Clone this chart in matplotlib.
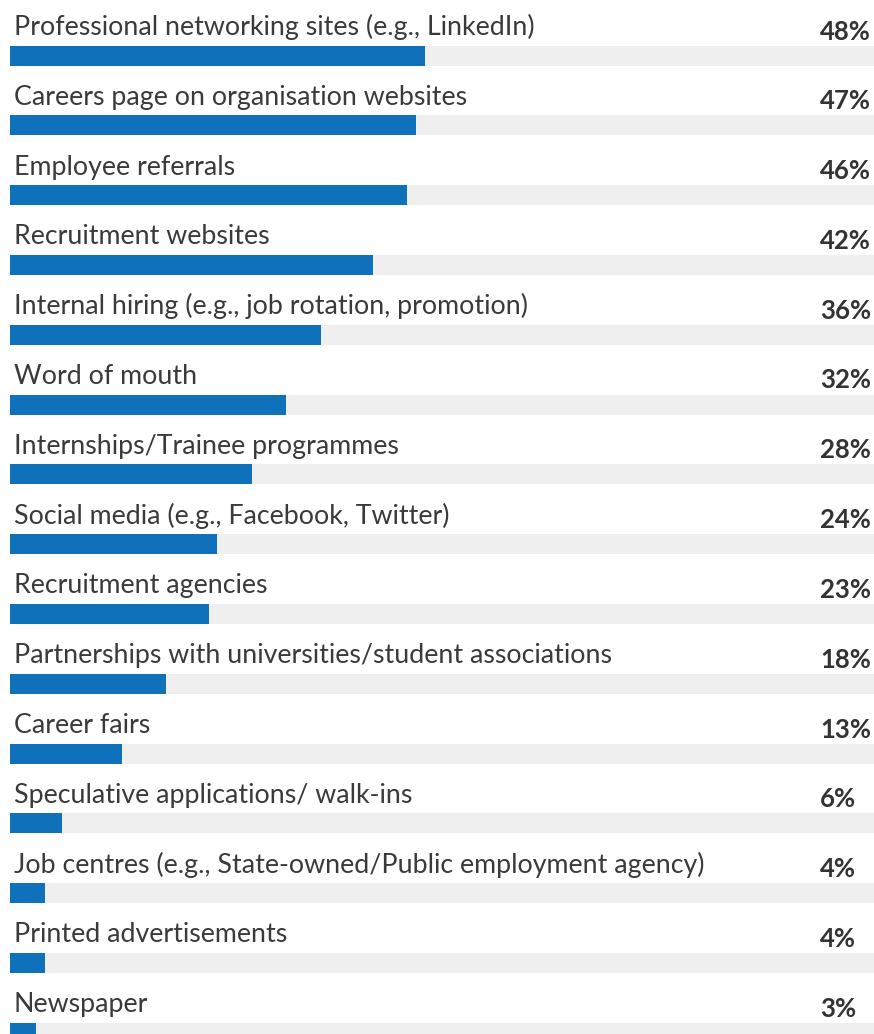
import matplotlib
matplotlib.use("Agg")
import matplotlib.pyplot as plt
import matplotlib.transforms as mtransforms

categories = [
    "Professional networking sites (e.g., LinkedIn)",
    "Careers page on organisation websites",
    "Employee referrals",
    "Recruitment websites",
    "Internal hiring (e.g., job rotation, promotion)",
    "Word of mouth",
    "Internships/Trainee programmes",
    "Social media (e.g., Facebook, Twitter)",
    "Recruitment agencies",
    "Partnerships with universities/student associations",
    "Career fairs",
    "Speculative applications/ walk-ins",
    "Job centres (e.g., State-owned/Public employment agency)",
    "Printed advertisements",
    "Newspaper",
]
values = [48, 47, 46, 42, 36, 32, 28, 24, 23, 18, 13, 6, 4, 4, 3]
value_labels = [f"{v}%" for v in values]

W, H, DPI = 874, 1034, 100
pitch = 69.8          # px between rows
first_center = 55.5   # px from top to centre of first bar
bar_h = 20 / pitch

BLUE = "#0f71b9"
TRACK = "#efefef"
TEXT = "#3a3a3a"

plt.rcParams["font.family"] = ["Lato", "DejaVu Sans"]

fig = plt.figure(figsize=(W / DPI, H / DPI), dpi=DPI)
ax = fig.add_axes([10 / W, 0, (W - 10) / W, 1])
ax.set_xlim(0, 100)
ax.set_ylim((H - first_center) / pitch, -first_center / pitch)
ax.axis("off")

rows = list(range(len(categories)))
ax.barh(rows, [100] * len(rows), height=bar_h, color=TRACK, left=0, zorder=1)
ax.barh(rows, values, height=bar_h, color=BLUE, zorder=2)

trans = mtransforms.blended_transform_factory(ax.transAxes, ax.transData)
label_off = 20.5 / pitch
value_off = 16.0 / pitch
for i, (cat, lab) in enumerate(zip(categories, value_labels)):
    ax.text(4 / (W - 10), i - label_off, cat, transform=trans, ha="left",
            va="baseline", fontsize=19.3, color=TEXT)
    ax.text((820 - 10) / (W - 10), i - value_off, lab, transform=trans,
            ha="left", va="baseline", fontsize=18.5, fontweight="bold", color="#333333")

fig.savefig("out.png", dpi=DPI, facecolor="white")
